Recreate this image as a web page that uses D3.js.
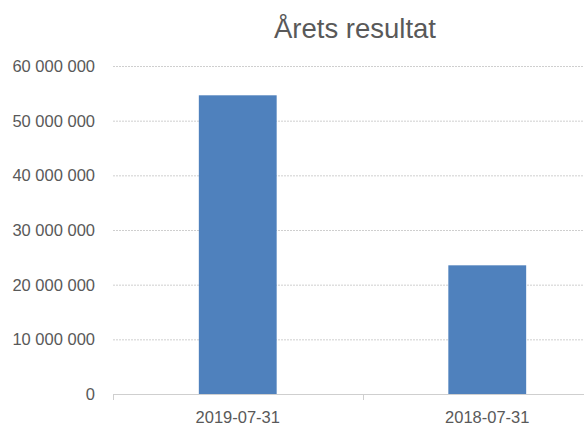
<!DOCTYPE html>
<html>
<head>
<meta charset="utf-8">
<script src="https://cdn.jsdelivr.net/npm/d3@7"></script>
<style>
  html, body { margin: 0; padding: 0; background: #fff; overflow: hidden; }
  text { font-family: "Liberation Sans", Arial, sans-serif; }
</style>
</head>
<body>
<script>
const title = "Årets resultat";
const categories = ["2019-07-31", "2018-07-31"];
const values = [54640000, 23540000];
const yTicks = [0, 10000000, 20000000, 30000000, 40000000, 50000000, 60000000];

function main() {
    const canvasWidth = 584;
    const canvasHeight = 426;

    const svg = d3.select("body").append("svg")
        .attr("width", canvasWidth)
        .attr("height", canvasHeight);

    const left = 113, right = 612, top = 66, bottom = 394;

    const xScale = d3.scaleBand()
        .domain(categories)
        .range([left, right])
        .paddingInner(0.688)
        .paddingOuter(0.344);

    const yScale = d3.scaleLinear()
        .domain([0, 60000000])
        .range([bottom, top]);

    const fmt = v => d3.format(",")(v).replace(/,/g, " ");

    // gridlines
    svg.append("g")
        .selectAll("line")
        .data(yTicks.filter(d => d > 0))
        .join("line")
        .attr("x1", left)
        .attr("x2", right)
        .attr("y1", d => yScale(d) + 0.5)
        .attr("y2", d => yScale(d) + 0.5)
        .attr("stroke", "#cfcfcf")
        .attr("stroke-dasharray", "2,1");

    // y labels
    svg.append("g")
        .selectAll("text")
        .data(yTicks)
        .join("text")
        .attr("x", left - 18)
        .attr("y", d => yScale(d))
        .attr("dy", "0.36em")
        .attr("text-anchor", "end")
        .attr("font-size", "16.5px")
        .attr("fill", "#595959")
        .text(d => fmt(d));

    // bars
    svg.append("g")
        .selectAll("rect")
        .data(values)
        .join("rect")
        .attr("x", (d, i) => xScale(categories[i]))
        .attr("y", d => yScale(d))
        .attr("width", xScale.bandwidth())
        .attr("height", d => yScale(0) - yScale(d))
        .attr("fill", "#4f81bd");

    // x axis
    const xAxis = d3.axisBottom(xScale).tickSize(0).tickPadding(0);
    const ax = svg.append("g")
        .attr("transform", "translate(0," + (bottom + 0.5) + ")")
        .call(xAxis);
    ax.select(".domain").attr("stroke", "#cfcfcf").attr("d", "M" + left + ",0H" + right);
    ax.selectAll(".tick text")
        .attr("y", 28)
        .attr("dy", null)
        .attr("font-size", "16.5px")
        .attr("font-family", "Liberation Sans, Arial, sans-serif")
        .attr("fill", "#595959");

    // category dividers
    const step = xScale.step();
    svg.append("g")
        .selectAll("line")
        .data([left, left + step, left + 2 * step])
        .join("line")
        .attr("x1", d => Math.round(d) + 0.5)
        .attr("x2", d => Math.round(d) + 0.5)
        .attr("y1", bottom)
        .attr("y2", bottom + 6)
        .attr("stroke", "#cfcfcf");

    svg.append("text")
        .attr("x", 355)
        .attr("y", 38)
        .attr("text-anchor", "middle")
        .attr("font-size", "27.5px")
        .attr("fill", "#595959")
        .text(title);
}
main();
</script>
</body>
</html>
